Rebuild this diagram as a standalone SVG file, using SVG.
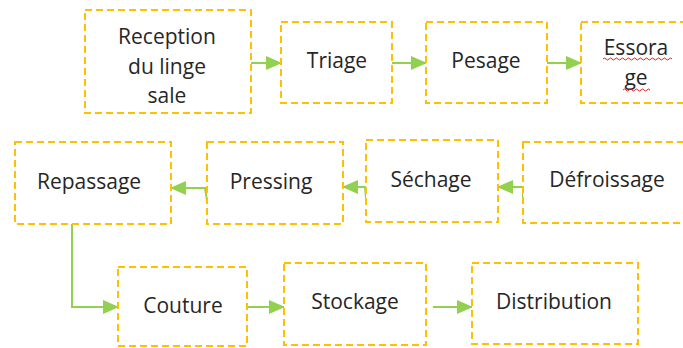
<svg xmlns="http://www.w3.org/2000/svg" width="683" height="348" viewBox="0 0 683 348">
<style>
.box{fill:#fff;stroke:#FFC000;stroke-width:2;stroke-dasharray:7 4}
.t{font-family:"Open Sans","Noto Sans",sans-serif;font-size:21px;fill:#262626;text-anchor:middle}
.c{fill:none;stroke:#92D050;stroke-width:2}
.sq{fill:none;stroke:#E02020;stroke-width:1}
</style>
<defs>
<marker id="ah" markerUnits="userSpaceOnUse" markerWidth="16" markerHeight="14" refX="15" refY="7" orient="auto">
<path d="M0,0 L16,7 L0,14 z" fill="#92D050"/>
</marker>
</defs>
<rect width="683" height="348" fill="#fff"/>
<g id="connectors">
<path class="c" d="M251,63 L281,63" marker-end="url(#ah)"/>
<path class="c" d="M392,63 L426,63" marker-end="url(#ah)"/>
<path class="c" d="M547,63 L581,63" marker-end="url(#ah)"/>
<path class="c" d="M523,198 L523,187 L498,187" marker-end="url(#ah)"/>
<path class="c" d="M366,198 L365,187 L343,187" marker-end="url(#ah)"/>
<path class="c" d="M207,200 L205,188 L171,188" marker-end="url(#ah)"/>
<path class="c" d="M72,224 L72,307 L118,307" marker-end="url(#ah)"/>
<path class="c" d="M247,307 L284,307" marker-end="url(#ah)"/>
<path class="c" d="M433,307 L472,307" marker-end="url(#ah)"/>
</g>
<g id="reception">
<rect class="box" x="85" y="10" width="166" height="103"/>
<text class="t" x="167" y="44">Reception</text>
<text class="t" x="167" y="74">du linge</text>
<text class="t" x="167" y="103">sale</text>
</g>
<g id="triage">
<rect class="box" x="281" y="22" width="111" height="81"/>
<text class="t" x="337" y="68">Triage</text>
</g>
<g id="pesage">
<rect class="box" x="426" y="22" width="121" height="81"/>
<text class="t" x="486" y="68">Pesage</text>
</g>
<g id="essorage">
<rect class="box" x="581" y="22" width="110" height="81"/>
<text class="t" x="636" y="55">Essora</text>
<text class="t" x="636" y="85">ge</text>
<path class="sq" d="M603,59 q1.5,-2 3,0 t3,0 t3,0 t3,0 t3,0 t3,0 t3,0 t3,0 t3,0 t3,0 t3,0 t3,0 t3,0 t3,0 t3,0 t3,0 t3,0 t3,0 t3,0 t3,0 t3,0 t3,0 t3,0"/>
<path class="sq" d="M623,90 q1.5,-2 3,0 t3,0 t3,0 t3,0 t3,0 t3,0 t3,0 t3,0 t3,0"/>
</g>
<g id="repassage">
<rect class="box" x="15" y="142" width="156" height="82"/>
<text class="t" x="89" y="189">Repassage</text>
</g>
<g id="pressing">
<rect class="box" x="207" y="142" width="136" height="82"/>
<text class="t" x="271" y="189">Pressing</text>
</g>
<g id="sechage">
<rect class="box" x="366" y="140" width="132" height="82"/>
<text class="t" x="431" y="187">Séchage</text>
</g>
<g id="defroissage">
<rect class="box" x="523" y="142" width="170" height="81"/>
<text class="t" x="607" y="187">Défroissage</text>
</g>
<g id="couture">
<rect class="box" x="118" y="267" width="129" height="79"/>
<text class="t" x="183" y="313">Couture</text>
</g>
<g id="stockage">
<rect class="box" x="284" y="263" width="142" height="82"/>
<text class="t" x="355" y="309">Stockage</text>
</g>
<g id="distribution">
<rect class="box" x="472" y="263" width="166" height="81"/>
<text class="t" x="554" y="309">Distribution</text>
</g>
</svg>
